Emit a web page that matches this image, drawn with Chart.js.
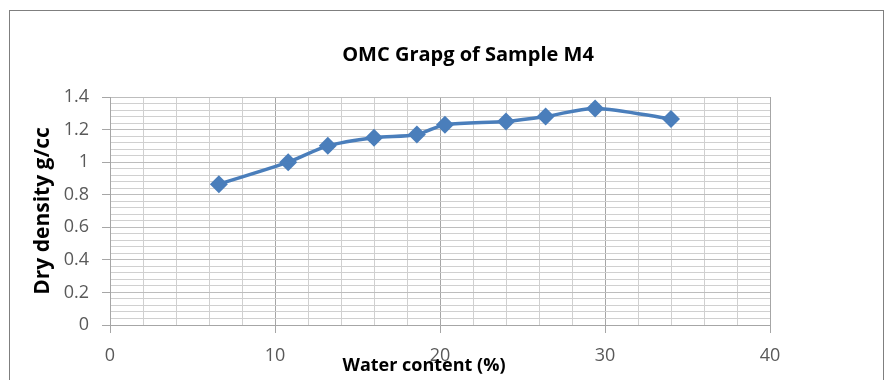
<!DOCTYPE html>
<html>
<head>
<meta charset="utf-8">
<script src="https://cdn.jsdelivr.net/npm/chart.js@4"></script>
<style>
  html, body { margin: 0; padding: 0; background: #fff; }
  #wrap { width: 890px; height: 380px; }
</style>
</head>
<body>
<div id="wrap"><canvas id="omc-chart" width="890" height="380"></canvas></div>
<script>
// water content (%) vs dry density (g/cc)
const waterContent = [6.6, 10.8, 13.2, 16.0, 18.6, 20.3, 24.0, 26.4, 29.4, 34.0];
const dryDensity = [0.865, 1.0, 1.10, 1.15, 1.17, 1.23, 1.25, 1.28, 1.33, 1.265];
const xTicks = [0, 10, 20, 30, 40];
const yTicks = [0, 0.2, 0.4, 0.6, 0.8, 1, 1.2, 1.4];

const chartTitle = 'OMC Grapg of Sample M4';
const xTitle = 'Water content (%)';
const yTitle = 'Dry density g/cc';

const blue = '#4a7ebb';
const labelFont = '"Open Sans", sans-serif';

const isMajor = (v, step) => Math.abs(v / step - Math.round(v / step)) < 1e-6;

// white page, grey frame, and the titles sitting where Excel put them
const decor = {
    id: 'decor',
    beforeDraw(chart) {
        const c = chart.ctx;
        c.save();
        c.fillStyle = '#fff';
        c.fillRect(0, 0, chart.width, chart.height);
        c.strokeStyle = '#7f7f7f';
        c.lineWidth = 1;
        c.strokeRect(9.5, 10.5, 874, 400);
        c.restore();
    },
    afterDraw(chart) {
        const c = chart.ctx;
        c.save();
        c.fillStyle = '#000';
        c.textAlign = 'center';
        c.textBaseline = 'middle';
        c.font = 'bold 20px ' + labelFont;
        c.fillText(chartTitle, 468, 55);
        c.font = 'bold 18px ' + labelFont;
        c.fillText(xTitle, 424, 366);
        c.translate(43, 211);
        c.rotate(-Math.PI / 2);
        c.font = 'bold 21px ' + labelFont;
        c.fillText(yTitle, 0, 0);
        c.restore();
    }
};

const ctx = document.getElementById('omc-chart').getContext('2d');
const chart = new Chart(ctx, {
    type: 'line',
    data: {
        datasets: [
            {
                label: 'Dry density',
                data: waterContent.map((x, i) => ({ x: x, y: dryDensity[i] })),
                borderColor: blue,
                backgroundColor: blue,
                borderWidth: 3.5,
                tension: 0.3,
                pointStyle: 'rectRot',
                pointRadius: 9,
                pointHoverRadius: 9,
                pointBorderWidth: 0,
                fill: false,
            },
        ],
    },
    plugins: [decor],
    options: {
        responsive: false,
        animation: false,
        layout: { padding: { left: 0, right: 120, top: 97, bottom: 0 } },
        plugins: {
            legend: { display: false },
            tooltip: { enabled: false },
            title: { display: false },
        },
        scales: {
            x: {
                type: 'linear',
                position: 'bottom',
                min: xTicks[0],
                max: xTicks[xTicks.length - 1],
                afterFit(scale) { scale.height = 55; },
                afterBuildTicks(scale) {
                    const t = [];
                    for (let v = xTicks[0]; v <= xTicks[xTicks.length - 1]; v += 2) t.push({ value: v });
                    scale.ticks = t;
                },
                ticks: {
                    autoSkip: false,
                    maxRotation: 0,
                    padding: 12,
                    color: '#595959',
                    font: { family: labelFont, size: 18 },
                    callback: (v) => (xTicks.includes(v) ? String(v) : ''),
                },
                grid: {
                    color: (c) => (isMajor(c.tick.value, 10) ? '#a6a6a6' : '#d0d0d0'),
                    tickColor: (c) => (isMajor(c.tick.value, 10) ? '#a6a6a6' : 'rgba(0,0,0,0)'),
                    tickLength: 8,
                },
                border: { color: '#a6a6a6' },
            },
            y: {
                min: yTicks[0],
                max: yTicks[yTicks.length - 1],
                afterFit(scale) { scale.width = 110; },
                afterBuildTicks(scale) {
                    const t = [];
                    for (let i = 0; i <= 35; i++) t.push({ value: Math.round(i * 4) / 100 });
                    scale.ticks = t;
                },
                ticks: {
                    autoSkip: false,
                    padding: 13,
                    color: '#595959',
                    font: { family: labelFont, size: 18 },
                    callback: (v) => (isMajor(v, 0.2) ? String(Math.round(v * 10) / 10) : ''),
                },
                grid: {
                    color: (c) => (isMajor(c.tick.value, 0.2) ? '#bdbdbd' : '#d0d0d0'),
                    tickColor: (c) => (isMajor(c.tick.value, 0.2) ? '#a6a6a6' : 'rgba(0,0,0,0)'),
                    tickLength: 8,
                },
                border: { color: '#a6a6a6' },
            },
        },
    },
});
</script>
</body>
</html>
